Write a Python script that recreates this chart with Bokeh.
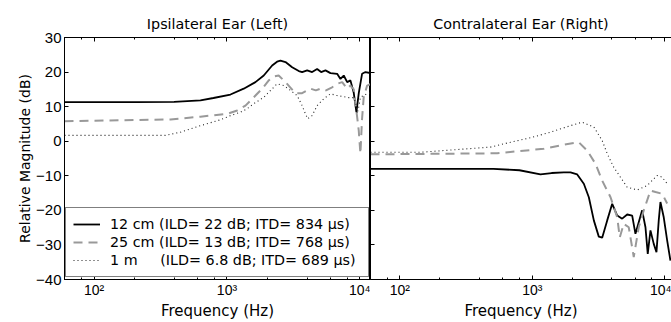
from bokeh.plotting import figure
from bokeh.layouts import row
from bokeh.models import (LogAxis, LinearAxis, LogTicker, FixedTicker, Legend, LegendItem,
                          CustomJSTickFormatter, Range1d)
from bokeh.embed import file_html
from bokeh.resources import INLINE

# ---------------- data ----------------
titles = ["Ipsilateral Ear (Left)", "Contralateral Ear (Right)"]
legend_labels = ["12 cm (ILD= 22 dB; ITD= 834 \u03bcs)",
                 "25 cm (ILD= 13 dB; ITD= 768 \u03bcs)",
                 "1 m\u00a0\u00a0\u00a0\u00a0\u00a0(ILD= 6.8 dB; ITD= 689 \u03bcs)"]
y_ticks = [-40, -30, -20, -10, 0, 10, 20, 30]

# Left panel (ipsilateral)
L12_f = [60, 200, 400, 632, 791, 1062, 1336, 1637, 1890, 2186, 2380, 2524, 2754, 3090, 3467,
         3673, 4008, 4368, 4762, 5103, 5502, 6000, 6735, 7131, 7551, 8013, 8478, 8979, 9400,
         9800, 10370, 11000, 12000]
L12_db = [11.3, 11.3, 11.4, 11.8, 12.5, 13.5, 15.2, 17.1, 19.0, 21.9, 23.0, 23.3, 22.9, 21.4, 20.3,
          20.0, 20.5, 20.0, 20.9, 20.0, 20.5, 19.7, 19.5, 18.0, 19.0, 17.1, 17.6, 14.0, 8.4,
          14.0, 19.5, 20.0, 19.7]

L25_f = [60, 376, 632, 1000, 1194, 1377, 1589, 1839, 2061, 2248, 2447, 2754, 3273, 3673, 4250,
         4660, 5046, 5550, 6176, 6735, 7350, 8013, 8478, 8979, 9250, 9526, 9790, 10075, 10370,
         10665, 11318, 12000]
L25_db = [5.8, 6.3, 7.1, 7.9, 8.9, 10.3, 12.7, 15.2, 17.6, 18.7, 19.0, 17.1, 13.9, 13.9, 15.2,
          14.7, 15.2, 14.7, 15.6, 16.6, 17.1, 15.2, 16.1, 15.0, 10.8, 7.0, 3.1, -3.6, 6.5,
          12.7, 16.1, 16.5]

L1_f = [60, 344, 446, 632, 893, 1062, 1263, 1418, 1581, 1892, 2005, 2382, 2673, 3000, 3370,
        3673, 3890, 4045, 4368, 4762, 5350, 6000, 6735, 7551, 8240, 8979, 9300, 9526, 9800,
        10075, 11000, 12000]
L1_db = [1.7, 1.7, 2.6, 4.5, 6.2, 7.4, 8.4, 9.4, 10.8, 12.7, 13.7, 16.6, 16.1, 14.7, 13.2,
         10.3, 7.9, 6.5, 7.4, 10.3, 12.3, 13.7, 13.2, 12.9, 12.6, 12.6, 11.0, 8.0, 10.0,
         12.7, 13.5, 14.0]

# Right panel (contralateral)
R12_f = [60, 509, 800, 1153, 1400, 1730, 1944, 2185, 2451, 2674, 2917, 3180, 3373, 3681, 4015,
         4380, 4776, 5209, 5683, 6016, 6757, 7160, 7450, 7810, 8270, 8670, 9020, 9290, 9840,
         10440, 11050]
R12_db = [-8.0, -8.0, -8.4, -9.6, -9.2, -9.0, -9.0, -9.6, -12.3, -16.2, -22.9, -27.6, -27.9,
          -22.9, -18.1, -21.5, -22.4, -21.2, -21.5, -26.8, -20.0, -24.9, -32.6, -25.8, -29.7,
          -32.1, -22.9, -17.6, -22.0, -28.7, -34.5]

R25_f = [60, 543, 769, 1222, 1730, 2245, 2600, 3000, 3373, 3900, 4380, 4580, 4910, 5355, 5840,
         6370, 6950, 7810, 8530, 9580, 10440]
R25_db = [-3.8, -3.5, -2.9, -2.2, -1.0, -0.3, -2.7, -6.5, -11.4, -16.2, -22.0, -27.8, -23.9,
          -24.9, -33.5, -24.9, -20.0, -14.3, -14.7, -15.2, -18.0]

R1_f = [60, 143, 483, 684, 968, 1371, 1944, 2380, 2917, 3373, 3681, 4120, 4630, 5209, 6200,
        7380, 8780, 9580, 10440]
R1_db = [-3.2, -3.2, -1.7, -0.3, 1.0, 2.6, 4.5, 5.5, 4.1, 0.2, -3.6, -7.5, -10.4, -13.3, -14.1,
         -12.8, -9.9, -10.4, -12.3]

# ---------------- styling helpers ----------------
SANS = "DejaVu Sans"
ARIAL = "Liberation Sans"

x_fmt = CustomJSTickFormatter(code="""
const e = Math.round(Math.log10(tick));
const sup = {"0":"\u2070","1":"\u00b9","2":"\u00b2","3":"\u00b3","4":"\u2074","5":"\u2075"};
return "10" + String(e).split("").map(c => sup[c]).join("");
""")
y_fmt = CustomJSTickFormatter(code="return tick < 0 ? '\u2212' + Math.abs(tick) : String(tick);")
blank_fmt = CustomJSTickFormatter(code="return '';")


def new_x_axis(labels):
    ax = LogAxis(ticker=LogTicker())
    ax.major_tick_in = 4
    ax.major_tick_out = 0
    ax.minor_tick_in = 2
    ax.minor_tick_out = 0
    ax.axis_line_color = "black"
    ax.major_tick_line_color = "black"
    ax.minor_tick_line_color = "black"
    if labels:
        ax.formatter = x_fmt
        ax.major_label_text_font = ARIAL
        ax.major_label_text_font_size = "14px"
        ax.major_label_text_color = "black"
        ax.major_label_standoff = 2
        ax.axis_label = "Frequency (Hz)"
        ax.axis_label_text_font = SANS
        ax.axis_label_text_font_size = "15px"
        ax.axis_label_text_font_style = "normal"
        ax.axis_label_text_color = "black"
        ax.axis_label_standoff = 1
    else:
        ax.formatter = blank_fmt
        ax.major_label_standoff = 0
    return ax


def new_y_axis(labels):
    ax = LinearAxis(ticker=FixedTicker(ticks=y_ticks))
    ax.major_tick_in = 4
    ax.major_tick_out = 0
    ax.minor_tick_line_color = None
    ax.axis_line_color = "black"
    ax.major_tick_line_color = "black"
    if labels:
        ax.formatter = y_fmt
        ax.major_label_text_font = ARIAL
        ax.major_label_text_font_size = "15px"
        ax.major_label_text_color = "black"
        ax.major_label_standoff = 3
        ax.axis_label = "Relative Magnitude (dB)"
        ax.axis_label_text_font = SANS
        ax.axis_label_text_font_size = "14px"
        ax.axis_label_text_font_style = "normal"
        ax.axis_label_text_color = "black"
        ax.axis_label_standoff = 0
    else:
        ax.formatter = blank_fmt
        ax.major_label_standoff = 0
    return ax


def make_panel(title, xmax, width, border_left, outline, ylabels):
    p = figure(width=width, height=322, x_axis_type="log",
               x_axis_location=None, y_axis_location=None,
               x_range=Range1d(60, xmax), y_range=Range1d(-40, 30),
               output_backend="svg", toolbar_location=None,
               min_border_left=border_left, min_border_right=0,
               min_border_top=37, min_border_bottom=43, title=title)
    p.title.align = "center"
    p.title.text_font = SANS
    p.title.text_font_size = "14.3px"
    p.title.text_font_style = "normal"
    p.title.text_color = "black"
    p.title.standoff = 12
    p.grid.grid_line_color = None
    p.outline_line_color = "black" if outline else None
    p.outline_line_width = 1
    p.background_fill_color = "white"
    p.border_fill_color = "white"
    p.add_layout(new_x_axis(False), "above")
    p.add_layout(new_x_axis(True), "below")
    p.add_layout(new_y_axis(ylabels), "left")
    return p


left = make_panel(titles[0], 12000, 370, 64, True, True)
right = make_panel(titles[1], 11260, 301, 0, False, False)

GRAY = "#999999"


def draw(p, f12, d12, f25, d25, f1, d1):
    r1 = p.line(f12, d12, line_color="black", line_width=1.8)
    r2 = p.line(f25, d25, line_color=GRAY, line_width=2, line_dash="9 6")
    r3 = p.line(f1, d1, line_color="#222222", line_width=1.1, line_dash="1 3")
    return [r1, r2, r3]


rl = draw(left, L12_f, L12_db, L25_f, L25_db, L1_f, L1_db)
draw(right, R12_f, R12_db, R25_f, R25_db, R1_f, R1_db)

legend = Legend(items=[LegendItem(label=lab, renderers=[r]) for lab, r in zip(legend_labels, rl)],
                location=(1, 2), margin=0, padding=7, spacing=0,
                label_height=18, glyph_height=18, glyph_width=27, label_standoff=10,
                label_width=251, border_line_color="black", border_line_width=1.5,
                background_fill_color="white", background_fill_alpha=1,
                label_text_font=SANS, label_text_font_size="14.3px", label_text_color="black")
left.add_layout(legend)

layout = row(left, right)
open("out.html", "w").write(file_html(layout, INLINE))
